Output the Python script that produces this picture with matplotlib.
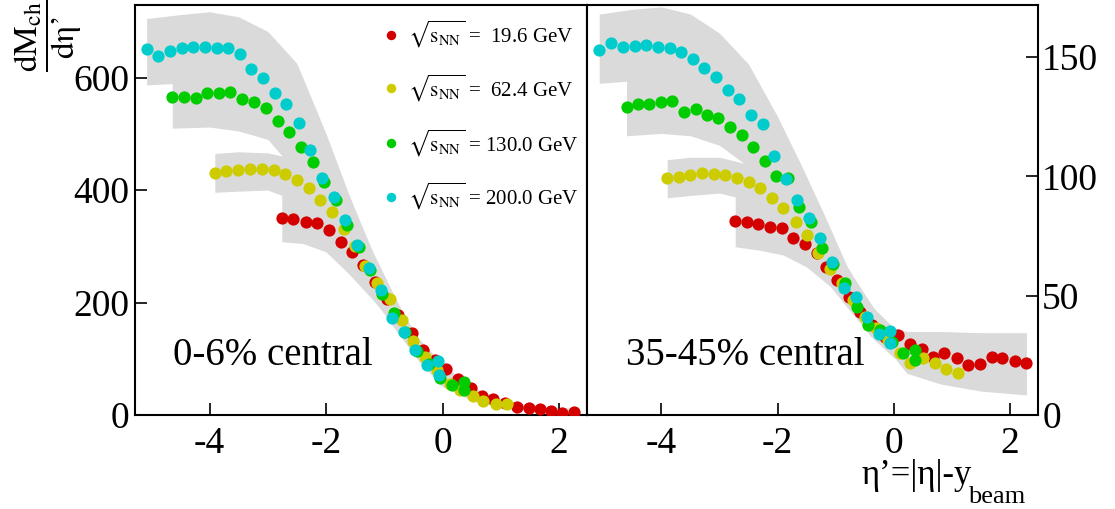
import matplotlib
matplotlib.use("Agg")
import matplotlib.pyplot as plt

plt.rcParams['font.family'] = ['Liberation Serif', 'DejaVu Serif']
plt.rcParams['mathtext.fontset'] = 'stix'
plt.rcParams['axes.unicode_minus'] = False

# ---------------- data: 0-6% central (left panel) ----------------
red_x_L = [-2.76, -2.56, -2.35, -2.15, -1.95, -1.75, -1.55, -1.36, -1.16, -0.96, -0.76, -0.53, -0.33,
           -0.13, 0.06, 0.26, 0.48, 0.68, 0.87, 1.07, 1.28, 1.48, 1.67, 1.86, 2.05, 2.25]
red_y_L = [350, 348, 344, 342, 329, 308, 290, 267, 237, 207, 178, 146, 116,
           98, 81, 64, 48, 33, 28, 21, 15, 12, 10, 7, 4, 6]

yel_x_L = [-3.91, -3.71, -3.51, -3.30, -3.10, -2.90, -2.70, -2.50, -2.30, -2.10, -1.90, -1.70, -1.50,
           -1.33, -1.13, -0.91, -0.70, -0.50, -0.30, -0.09, 0.12, 0.30, 0.52, 0.70, 0.91, 1.11]
yel_y_L = [431, 433, 436, 437, 437, 436, 429, 418, 403, 382, 361, 330, 300,
           265, 234, 206, 169, 132, 104, 80, 56, 44, 33, 25, 19, 19]

grn_x_L = [-4.64, -4.44, -4.24, -4.04, -3.84, -3.65, -3.44, -3.24, -3.03, -2.83, -2.63, -2.43, -2.23,
           -2.03, -1.83, -1.64, -1.44, -1.24, -1.04, -0.84, -0.64, -0.44, -0.24, -0.04, 0.16, 0.36, 0.36]
grn_y_L = [566, 566, 564, 573, 573, 575, 562, 557, 546, 523, 504, 477, 450,
           415, 382, 338, 299, 258, 216, 181, 148, 113, 90, 66, 53, 59, 44]

cyn_x_L = [-5.08, -4.88, -4.68, -4.48, -4.28, -4.08, -3.88, -3.68, -3.48, -3.28, -3.08, -2.88, -2.68,
           -2.47, -2.27, -2.07, -1.87, -1.67, -1.47, -1.27, -1.06, -0.86, -0.67, -0.47, -0.27, -0.07, -0.06]
cyn_y_L = [650, 638, 648, 653, 654, 655, 653, 653, 642, 616, 600, 573, 553,
           520, 472, 421, 388, 347, 302, 261, 222, 172, 147, 116, 89, 96, 71]

# systematic bands, left panel
bcyn_x_L = [-5.08, -4.5, -4.0, -3.5, -3.0, -2.5, -2.0, -1.6, -1.2, -0.8, -0.4, -0.06]
bcyn_hi_L = [705, 712, 717, 708, 682, 625, 500, 390, 290, 205, 130, 85]
bcyn_lo_L = [587, 590, 592, 585, 560, 480, 370, 290, 225, 160, 95, 60]

bgrn_x_L = [-4.64, -4.0, -3.5, -3.0, -2.5, -2.0, -1.6, -1.2, -0.8, -0.4, 0.0, 0.36]
bgrn_hi_L = [620, 630, 620, 600, 540, 460, 380, 290, 205, 130, 80, 55]
bgrn_lo_L = [510, 512, 505, 490, 430, 365, 300, 225, 160, 95, 50, 35]

byel_x_L = [-3.91, -3.5, -3.0, -2.5, -2.0, -1.6, -1.2, -0.8, -0.4, 0.0, 0.5, 1.11]
byel_hi_L = [465, 468, 466, 455, 405, 345, 275, 200, 130, 80, 40, 25]
byel_lo_L = [396, 398, 400, 380, 330, 270, 210, 150, 95, 55, 25, 12]

bred_x_L = [-2.76, -2.4, -2.0, -1.6, -1.2, -0.8, -0.4, 0.0, 0.5, 1.0, 1.5, 2.25]
bred_hi_L = [392, 390, 375, 330, 270, 200, 135, 90, 50, 28, 18, 12]
bred_lo_L = [308, 305, 290, 250, 205, 155, 100, 65, 35, 15, 7, 2]

# ---------------- data: 35-45% central (right panel) ----------------
red_x_R = [-2.73, -2.53, -2.33, -2.13, -1.93, -1.73, -1.53, -1.33, -1.16, -0.97, -0.78, -0.58, -0.38,
           -0.15, 0.07, 0.27, 0.48, 0.67, 0.87, 1.08, 1.27, 1.48, 1.68, 1.86, 2.08, 2.28]
red_y_R = [81.4, 81.0, 80.0, 78.9, 78.2, 74.0, 71.7, 68.0, 62.2, 56.6, 49.6, 43.3, 37.7,
           32.8, 33.5, 29.8, 27.5, 24.4, 26.1, 23.8, 21.0, 21.4, 24.2, 23.8, 22.6, 21.9]

yel_x_R = [-3.90, -3.70, -3.50, -3.30, -3.10, -2.90, -2.70, -2.50, -2.30, -2.10, -1.90, -1.69, -1.50,
           -1.30, -1.10, -0.90, -0.70, -0.50, -0.30, -0.10, 0.10, 0.27, 0.50, 0.70, 0.90, 1.10]
yel_y_R = [99.2, 99.6, 100.6, 101.3, 101.0, 100.6, 99.2, 97.8, 95.0, 91.1, 86.6, 81.0, 75.4,
           67.8, 61.0, 55.2, 48.2, 41.2, 36.3, 31.4, 25.9, 21.9, 23.8, 21.7, 19.1, 17.7]

grn_x_R = [-4.60, -4.40, -4.21, -4.01, -3.81, -3.61, -3.41, -3.22, -3.02, -2.82, -2.62, -2.42, -2.22,
           -2.02, -1.82, -1.63, -1.43, -1.24, -1.04, -0.84, -0.64, -0.44, -0.24, -0.04, 0.16, 0.36, 0.36]
grn_y_R = [129.0, 130.3, 130.2, 131.3, 131.6, 127.1, 128.1, 125.7, 124.6, 120.8, 117.3, 112.4, 106.6,
           100.3, 99.2, 87.3, 81.0, 69.9, 63.2, 55.2, 45.4, 37.7, 35.6, 30.7, 25.9, 27.2, 23.0]

cyn_x_R = [-5.07, -4.86, -4.66, -4.46, -4.26, -4.06, -3.86, -3.66, -3.46, -3.26, -3.06, -2.86, -2.66,
           -2.46, -2.26, -2.06, -1.86, -1.66, -1.46, -1.27, -1.06, -0.86, -0.66, -0.46, -0.26, -0.06, -0.06]
cyn_y_R = [153.0, 156.0, 154.4, 154.8, 155.1, 154.1, 153.7, 152.3, 149.1, 145.5, 141.8, 136.2, 132.4,
           125.7, 121.8, 108.7, 98.8, 90.0, 82.4, 74.3, 64.3, 53.1, 49.6, 40.9, 33.8, 35.3, 30.0]

# systematic bands, right panel
bcyn_x_R = [-5.07, -4.5, -4.0, -3.5, -3.0, -2.5, -2.0, -1.6, -1.2, -0.8, -0.4, -0.06]
bcyn_hi_R = [168, 170, 171, 168, 160, 147, 125, 105, 84, 62, 46, 38]
bcyn_lo_R = [139, 140, 140, 138, 130, 116, 95, 78, 62, 46, 33, 27]

bgrn_x_R = [-4.60, -4.0, -3.5, -3.0, -2.5, -2.0, -1.6, -1.2, -0.8, -0.4, 0.0, 0.36]
bgrn_hi_R = [143, 144, 142, 138, 127, 112, 96, 78, 60, 43, 34, 30]
bgrn_lo_R = [117, 118, 117, 113, 104, 90, 77, 62, 48, 33, 25, 20]

byel_x_R = [-3.90, -3.5, -3.0, -2.5, -2.0, -1.6, -1.2, -0.8, -0.4, 0.0, 0.5, 1.10]
byel_hi_R = [107, 108, 108, 105, 97, 86, 72, 58, 42, 32, 28, 25]
byel_lo_R = [91, 92, 93, 90, 82, 72, 59, 47, 33, 24, 17, 13]

bred_x_R = [-2.73, -2.3, -1.9, -1.5, -1.1, -0.7, -0.35, -0.07, 0.22, 0.8, 1.5, 2.28]
bred_hi_R = [92, 91, 89, 84, 74, 58, 45, 37, 35, 35, 34.5, 34.5]
bred_lo_R = [70.5, 69, 67, 62, 54, 42, 32, 26.5, 17.5, 13, 10, 8.4]

energies = ["19.6", "62.4", "130.0", "200.0"]
colors = ["#d40000", "#cccc00", "#00cc00", "#00cccc"]
centrality = ["0-6% central", "35-45% central"]

# ---------------- figure ----------------
W, H = 1115, 509
fig = plt.figure(figsize=(W / 100, H / 100), dpi=100)
axL = fig.add_axes([135 / W, 1 - 415 / H, 452 / W, 410 / H])
axR = fig.add_axes([587 / W, 1 - 415 / H, 451 / W, 410 / H])

band_color = "#dadada"
tick_fs = 27


def draw_panel(ax, bands, series):
    for bx, blo, bhi in bands:
        ax.fill_between(bx, blo, bhi, color=band_color, lw=0, zorder=1)
    for (sx, sy), c in zip(series, colors):
        ax.plot(sx, sy, ls="none", marker="o", ms=8.8, mec="none", mfc=c, zorder=3)
    ax.set_xlim(-5.28, 2.48)
    ax.set_xticks([-4, -2, 0, 2])
    for s in ax.spines.values():
        s.set_linewidth(1.5)
    ax.tick_params(direction="in", length=8.5, width=1.2, labelsize=tick_fs)
    ax.tick_params(axis="x", pad=8)


draw_panel(axL,
           [(bcyn_x_L, bcyn_lo_L, bcyn_hi_L), (bgrn_x_L, bgrn_lo_L, bgrn_hi_L),
            (byel_x_L, byel_lo_L, byel_hi_L), (bred_x_L, bred_lo_L, bred_hi_L)],
           [(red_x_L, red_y_L), (yel_x_L, yel_y_L), (grn_x_L, grn_y_L), (cyn_x_L, cyn_y_L)])
draw_panel(axR,
           [(bcyn_x_R, bcyn_lo_R, bcyn_hi_R), (bgrn_x_R, bgrn_lo_R, bgrn_hi_R),
            (byel_x_R, byel_lo_R, byel_hi_R), (bred_x_R, bred_lo_R, bred_hi_R)],
           [(red_x_R, red_y_R), (yel_x_R, yel_y_R), (grn_x_R, grn_y_R), (cyn_x_R, cyn_y_R)])

axL.set_ylim(0, 729)
axL.set_yticks([0, 200, 400, 600])
axL.tick_params(axis="y", left=True, right=False, pad=4)

axR.set_ylim(0, 171.8)
axR.set_yticks([0, 50, 100, 150])
axR.yaxis.tick_right()
axR.tick_params(axis="y", left=False, right=True, pad=3)

axL.text(0.084, 0.122, centrality[0], transform=axL.transAxes, fontsize=28, va="baseline")
axR.text(0.086, 0.122, centrality[1], transform=axR.transAxes, fontsize=28, va="baseline")

# legend
leg_y = [0.927, 0.797, 0.663, 0.532]
for e, c, yy in zip(energies, colors, leg_y):
    axL.plot([0.566], [yy], transform=axL.transAxes, marker="o", ms=6.8, mec="none", mfc=c,
             ls="none", zorder=5)
    pad = "  " if len(e) == 4 else " "
    axL.text(0.605, yy, r"$\sqrt{\mathrm{s}_{\mathrm{NN}}}$ =" + pad + e + " GeV",
             transform=axL.transAxes, fontsize=15, va="center", ha="left")

# axis titles
fig.text(48 / W, 1 - 36 / H, r"$\dfrac{\mathrm{dM}_{\mathrm{ch}}}{\mathrm{dη’}}$",
         rotation=90, fontsize=24, ha="center", va="center")
fig.text(862 / W, 1 - 484 / H, "η’=|η|-y", fontsize=25, ha="left", va="baseline")
fig.text(968 / W, 1 - 503 / H, "beam", fontsize=19, ha="left", va="baseline")

fig.savefig("out.png", dpi=100)
